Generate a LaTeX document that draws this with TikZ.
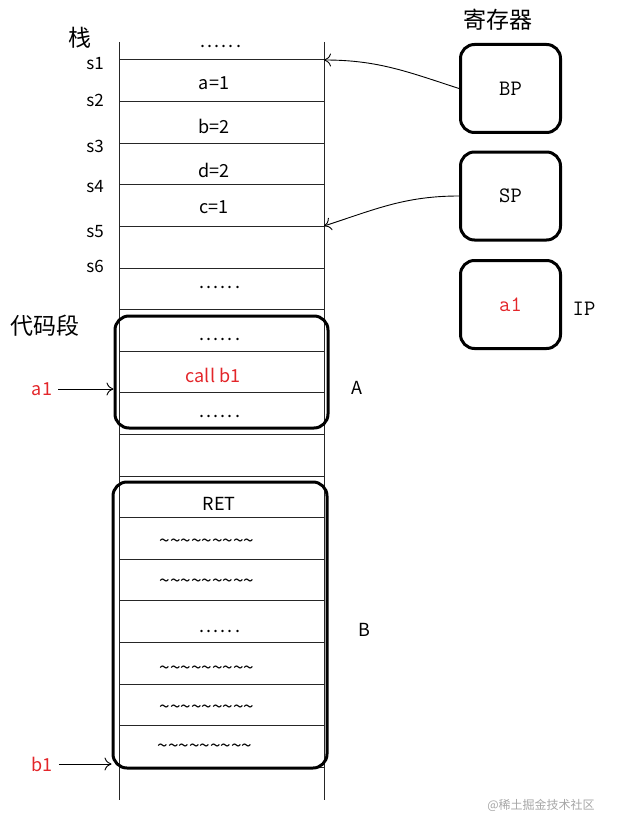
\documentclass[tikz,border=0pt]{standalone}
\usepackage{fontspec}
\setmainfont{Noto Sans CJK SC}
\usetikzlibrary{positioning,arrows.meta}

\definecolor{codered}{HTML}{E3262A}

\newcommand{\sixdots}{.\kern2pt.\kern2pt.\kern2pt.\kern2pt.\kern2pt.}
\newcommand{\ninetilde}{\textasciitilde\textasciitilde\textasciitilde\textasciitilde\textasciitilde\textasciitilde\textasciitilde\textasciitilde\textasciitilde}

\tikzset{
  txt/.style={font=\fontsize{18}{18}\selectfont, inner sep=0pt},
  addr/.style={font=\fontsize{17}{17}\selectfont, inner sep=0pt},
  wave/.style={font=\fontsize{19}{19}\selectfont, inner sep=0pt},
  cjk/.style={font=\fontsize{23}{23}\selectfont, inner sep=0pt},
  reg/.style={draw, line width=3pt, rounded corners=14pt, minimum width=100pt, minimum height=88pt,
    font=\ttfamily\fontsize{22}{22}\selectfont},
  segbox/.style={draw, line width=3pt, rounded corners=14pt},
  ptr/.style={-{To[length=7pt,width=13pt]}, line width=0.9pt},
}

\begin{document}
\begin{tikzpicture}[x=1pt, y=-1pt]
  \useasboundingbox (0,0) rectangle (619,832);

  % stack columns and rows
  \draw[line width=1pt, black!85] (119,42) -- (119,800) (324,42) -- (324,800);
  \foreach \i in {0,...,17}
    \draw[line width=1pt, black!85] (119,60+41.6*\i) -- (324,60+41.6*\i);
  \coordinate (s1r) at (324,60);
  \coordinate (s5r) at (324,226);

  % titles
  \node[cjk] (stack) at (80,38) {栈};
  \node[cjk] (code) at (45,326) {代码段};
  \node[cjk] (regs) at (498,20) {寄存器};

  % stack addresses
  \foreach \name/\y in {1/70,2/107,3/153,4/192,5/237,6/272}
    \node[addr, anchor=base east] (s\name) at (104,\y) {s\name};

  % cell contents
  \node[txt, anchor=base] (top) at (221,48) {\sixdots};
  \node[txt, anchor=base] (va) at (214,90) {a=1};
  \node[txt, anchor=base] (vb) at (214,133) {b=2};
  \node[txt, anchor=base] (vd) at (214,177) {d=2};
  \node[txt, anchor=base] (vc) at (214,213) {c=1};
  \node[txt, anchor=base] (mid) at (220,288) {\sixdots};

  % segment A
  \node[segbox, minimum width=213pt, minimum height=112pt] (segA) at (221.5,372) {};
  \node[txt, anchor=base] (a0) at (220,340) {\sixdots};
  \node[txt, anchor=base, text=codered] (call) at (213,382) {call b1};
  \node[txt, anchor=base] (a2) at (220,417) {\sixdots};
  \node[txt] (labA) at (357,388) {A};

  % segment B
  \node[segbox, minimum width=214pt, minimum height=286pt] (segB) at (220,625) {};
  \node[txt, anchor=base] (ret) at (219,510) {RET};
  \foreach \y in {543,583,670,709}
    \node[wave] at (207,\y) {\ninetilde};
  \node[wave] (last) at (205,748) {\ninetilde};
  \node[txt, anchor=base] (b3) at (220,632) {\sixdots};
  \node[txt] (labB) at (364,630) {B};

  % entry points
  \node[txt, text=codered] (a1) at (42,389) {a1};
  \node[txt, text=codered] (b1) at (42,764) {b1};
  \draw[ptr] ([xshift=6pt]a1.east) -- (a1.east -| segA.west);
  \draw[ptr] ([xshift=6pt]b1.east) -- (b1.east -| segB.west);

  % registers
  \node[reg] (bp) at (510.5,88.5) {BP};
  \node[reg] (sp) at (510.5,196) {SP};
  \node[reg, text=codered] (ip) at (510.5,304.5) {a1};
  \node[font=\ttfamily\fontsize{22}{22}\selectfont, inner sep=0pt] (iplab) at (584,309) {IP};

  \draw[ptr] (bp.west) to[out=162, in=0] (s1r);
  \draw[ptr] (sp.west) to[out=180, in=18] (s5r);

  \node[font=\fontsize{12}{12}\selectfont, text=black!35] (mark) at (541,805) {@稀土掘金技术社区};
\end{tikzpicture}
\end{document}
